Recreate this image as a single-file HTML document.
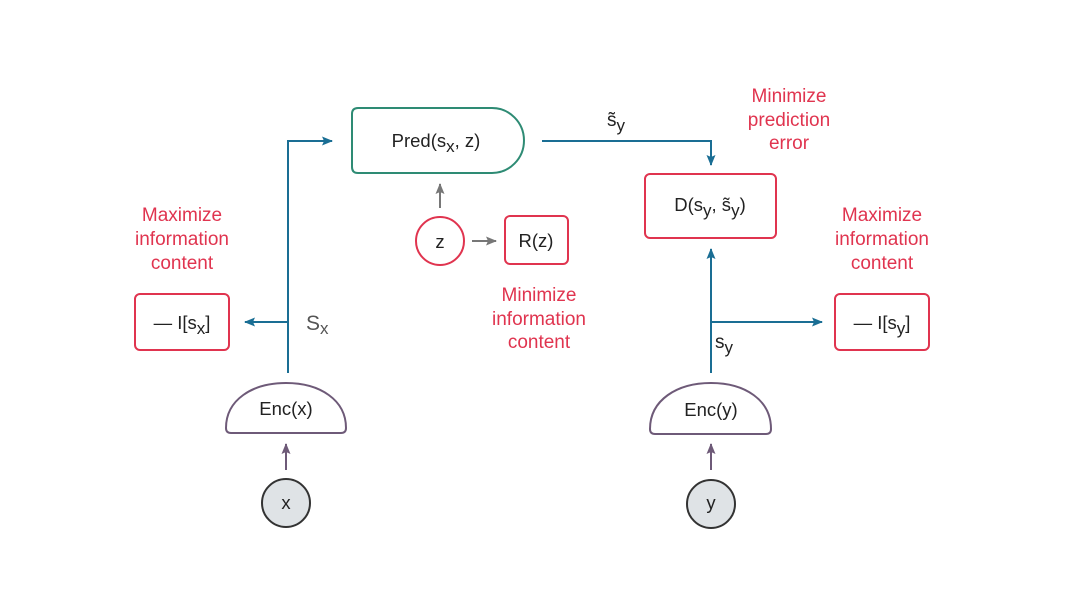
<!DOCTYPE html>
<html><head><meta charset="utf-8"><style>
html,body{margin:0;padding:0;background:#fff;}
svg{display:block;font-family:"Liberation Sans","DejaVu Sans",sans-serif;}
.r{fill:#e0344f;font-size:19px;text-anchor:middle;}
.t{fill:#222;font-size:18.5px;text-anchor:middle;}
</style></head><body>
<svg width="1080" height="608" viewBox="0 0 1080 608" xmlns="http://www.w3.org/2000/svg">
<defs>
<marker id="ab" markerWidth="11" markerHeight="9" refX="10" refY="4.5" orient="auto" markerUnits="userSpaceOnUse"><path d="M0,0 L11,4.5 L0,9 L2,4.5z" fill="#1a6e94"/></marker>
<marker id="ag" markerWidth="11" markerHeight="9" refX="10" refY="4.5" orient="auto" markerUnits="userSpaceOnUse"><path d="M0,0 L11,4.5 L0,9 L2,4.5z" fill="#777"/></marker>
<marker id="ap" markerWidth="11" markerHeight="9" refX="10" refY="4.5" orient="auto" markerUnits="userSpaceOnUse"><path d="M0,0 L11,4.5 L0,9 L2,4.5z" fill="#6e5a78"/></marker>
</defs>
<g fill="none" stroke-width="2">
<path d="M358,108 H492 A32,32.5 0 0 1 492,173 H358 Q352,173 352,167 V114 Q352,108 358,108Z" stroke="#2e8b74"/>
<rect x="135" y="294" width="94" height="56" rx="5" stroke="#e0344f"/>
<rect x="835" y="294" width="94" height="56" rx="5" stroke="#e0344f"/>
<rect x="505" y="216" width="63" height="48" rx="5" stroke="#e0344f"/>
<rect x="645" y="174" width="131" height="64" rx="5" stroke="#e0344f"/>
<circle cx="440" cy="241" r="24" stroke="#e0344f"/>
<path d="M231,433 H341 Q346,433 346,428 C346,400 320,383 286,383 C252,383 226,400 226,428 Q226,433 231,433Z" stroke="#6e5a78"/>
<path d="M655,434 H766 Q771,434 771,429 C771,400 745,383 711,383 C677,383 650,400 650,429 Q650,434 655,434Z" stroke="#6e5a78"/>
<path d="M288,373 V141 H332" stroke="#1a6e94" marker-end="url(#ab)"/>
<path d="M288,322 H245" stroke="#1a6e94" marker-end="url(#ab)"/>
<path d="M542,141 H711 V165" stroke="#1a6e94" marker-end="url(#ab)"/>
<path d="M711,373 V249" stroke="#1a6e94" marker-end="url(#ab)"/>
<path d="M711,322 H822" stroke="#1a6e94" marker-end="url(#ab)"/>
<path d="M440,208 V184" stroke="#777" marker-end="url(#ag)"/>
<path d="M472,241 H496" stroke="#777" marker-end="url(#ag)"/>
<path d="M286,470 V444" stroke="#6e5a78" marker-end="url(#ap)"/>
<path d="M711,470 V444" stroke="#6e5a78" marker-end="url(#ap)"/>
</g>
<circle cx="286" cy="503" r="24" fill="#dfe3e6" stroke="#333" stroke-width="2"/>
<circle cx="711" cy="504" r="24" fill="#dfe3e6" stroke="#333" stroke-width="2"/>
<text class="t" x="286" y="509" font-size="16">x</text>
<text class="t" x="711" y="509" font-size="17">y</text>
<text class="t" x="286" y="415">Enc(x)</text>
<text class="t" x="711" y="416">Enc(y)</text>
<text class="t" x="436" y="147">Pred(s<tspan font-size="17" dy="5">x</tspan><tspan dy="-5">, z)</tspan></text>
<text class="t" x="440" y="248">z</text>
<text class="t" x="536" y="247">R(z)</text>
<text class="t" x="710" y="211">D(s<tspan font-size="17" dy="5">y</tspan><tspan dy="-5">, s̃</tspan><tspan font-size="17" dy="5">y</tspan><tspan dy="-5">)</tspan></text>
<text class="t" x="182" y="329" font-size="20">— I[s<tspan font-size="17" dy="5">x</tspan><tspan dy="-5">]</tspan></text>
<text class="t" x="882" y="329" font-size="20">— I[s<tspan font-size="17" dy="5">y</tspan><tspan dy="-5">]</tspan></text>
<text x="306" y="330" fill="#555" font-size="21">S<tspan font-size="17" dy="4">x</tspan></text>
<text x="715" y="348" fill="#222" font-size="19">s<tspan font-size="17" dy="5">y</tspan></text>
<text x="607" y="126" fill="#222" font-size="19">s̃<tspan font-size="17" dy="5">y</tspan></text>
<text class="r" x="789" y="102">Minimize</text>
<text class="r" x="789" y="126">prediction</text>
<text class="r" x="789" y="149">error</text>
<text class="r" x="182" y="221">Maximize</text>
<text class="r" x="182" y="245">information</text>
<text class="r" x="182" y="269">content</text>
<text class="r" x="882" y="221">Maximize</text>
<text class="r" x="882" y="245">information</text>
<text class="r" x="882" y="269">content</text>
<text class="r" x="539" y="301">Minimize</text>
<text class="r" x="539" y="325">information</text>
<text class="r" x="539" y="348">content</text>
</svg>
</body></html>
